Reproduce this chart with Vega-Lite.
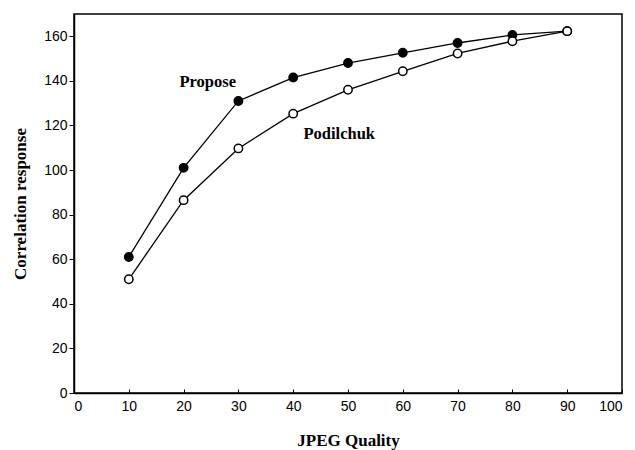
{
  "$schema": "https://vega.github.io/schema/vega-lite/v6.json",
  "width": 548,
  "height": 379,
  "autosize": "none",
  "padding": {"left": 74, "top": 14, "right": 13, "bottom": 57},
  "background": "white",
  "config": {
    "view": {"stroke": "black", "strokeWidth": 1.5},
    "axis": {"grid": false, "domainColor": "black", "tickColor": "black", "labelColor": "black", "titleColor": "black", "labelFont": "Liberation Sans", "labelFontSize": 14, "titleFont": "Liberation Serif", "titleFontSize": 17, "titleFontWeight": "bold", "domainWidth": 1.5}
  },
  "datasets": {
    "series": [
      {"quality": 10, "response": 61, "method": "Propose"},
      {"quality": 20, "response": 101, "method": "Propose"},
      {"quality": 30, "response": 131, "method": "Propose"},
      {"quality": 40, "response": 141.5, "method": "Propose"},
      {"quality": 50, "response": 148, "method": "Propose"},
      {"quality": 60, "response": 152.6, "method": "Propose"},
      {"quality": 70, "response": 157, "method": "Propose"},
      {"quality": 80, "response": 160.6, "method": "Propose"},
      {"quality": 90, "response": 162.3, "method": "Propose"},
      {"quality": 10, "response": 51, "method": "Podilchuk"},
      {"quality": 20, "response": 86.5, "method": "Podilchuk"},
      {"quality": 30, "response": 109.7, "method": "Podilchuk"},
      {"quality": 40, "response": 125.3, "method": "Podilchuk"},
      {"quality": 50, "response": 136, "method": "Podilchuk"},
      {"quality": 60, "response": 144.3, "method": "Podilchuk"},
      {"quality": 70, "response": 152.3, "method": "Podilchuk"},
      {"quality": 80, "response": 157.8, "method": "Podilchuk"},
      {"quality": 90, "response": 162.3, "method": "Podilchuk"}
    ],
    "labels": [
      {"quality": 24.4, "response": 139.5, "text": "Propose"},
      {"quality": 48.4, "response": 116, "text": "Podilchuk"}
    ]
  },
  "layer": [
    {
      "data": {"name": "series"},
      "mark": {"type": "line", "color": "black", "strokeWidth": 1.3},
      "encoding": {
        "x": {"field": "quality", "type": "quantitative", "scale": {"domain": [0, 100], "nice": false}, "axis": {"title": "JPEG Quality", "values": [0,10,20,30,40,50,60,70,80,90,100], "tickSize": -4, "labelPadding": 10, "titlePadding": 19}},
        "y": {"field": "response", "type": "quantitative", "scale": {"domain": [0, 170], "nice": false}, "axis": {"title": "Correlation response", "values": [0,20,40,60,80,100,120,140,160], "tickSize": 5, "labelPadding": 2, "titlePadding": 14}},
        "detail": {"field": "method"}
      }
    },
    {
      "data": {"name": "series"},
      "mark": {"type": "point", "filled": true, "stroke": "black", "strokeWidth": 1.5, "size": 70, "opacity": 1},
      "encoding": {
        "x": {"field": "quality", "type": "quantitative"},
        "y": {"field": "response", "type": "quantitative"},
        "fill": {"field": "method", "type": "nominal", "scale": {"domain": ["Propose", "Podilchuk"], "range": ["black", "white"]}, "legend": null}
      }
    },
    {
      "data": {"name": "labels"},
      "mark": {"type": "text", "font": "Liberation Serif", "fontSize": 16.5, "fontWeight": "bold", "color": "black"},
      "encoding": {
        "x": {"field": "quality", "type": "quantitative"},
        "y": {"field": "response", "type": "quantitative"},
        "text": {"field": "text"}
      }
    }
  ]
}
